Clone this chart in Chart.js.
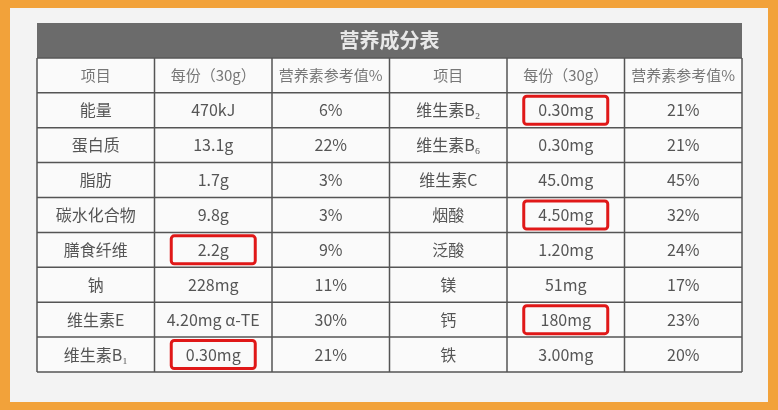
<!DOCTYPE html>
<html>
<head>
<meta charset="utf-8">
<script src="https://cdn.jsdelivr.net/npm/chart.js@4/dist/chart.umd.min.js"></script>
<style>
  html, body { margin: 0; padding: 0; background: #f2a23a; }
  #wrap { position: absolute; left: 10px; top: 8px; width: 758px; height: 394px; background: #f3f3f3; }
  canvas { position: absolute; left: -10px; top: -8px; }
</style>
</head>
<body>
<div id="wrap"><canvas id="c" width="778" height="410"></canvas></div>
<script>
const title = '营养成分表';
const headers = ['项目', '每份（30g）', '营养素参考值%', '项目', '每份（30g）', '营养素参考值%'];
const leftItems = ['能量', '蛋白质', '脂肪', '碳水化合物', '膳食纤维', '钠', '维生素E', '维生素B₁'];
const leftAmounts = ['470kJ', '13.1g', '1.7g', '9.8g', '2.2g', '228mg', '4.20mg α-TE', '0.30mg'];
const leftNrv = ['6%', '22%', '3%', '3%', '9%', '11%', '30%', '21%'];
const rightItems = ['维生素B₂', '维生素B₆', '维生素C', '烟酸', '泛酸', '镁', '钙', '铁'];
const rightAmounts = ['0.30mg', '0.30mg', '45.0mg', '4.50mg', '1.20mg', '51mg', '180mg', '3.00mg'];
const rightNrv = ['21%', '21%', '45%', '32%', '24%', '17%', '23%', '20%'];
// highlighted cells: [column, row]
const highlights = [[4, 0], [1, 4], [1, 7], [4, 3], [4, 6]];

const cols = [leftItems, leftAmounts, leftNrv, rightItems, rightAmounts, rightNrv];
const points = [];
headers.forEach((h, i) => points.push({ x: i + 0.5, y: 1.5, t: h, head: true }));
cols.forEach((col, i) => col.forEach((t, r) => points.push({ x: i + 0.5, y: r + 2.5, t })));

const tablePlugin = {
  id: 'table',
  beforeDatasetsDraw(chart) {
    const { ctx, scales: { x, y } } = chart;
    const X = v => x.getPixelForValue(v), Y = v => y.getPixelForValue(v);
    ctx.save();
    ctx.fillStyle = '#fafafa';
    ctx.fillRect(X(0), Y(1), X(6) - X(0), Y(10) - Y(1));
    ctx.fillStyle = '#6b6b6b';
    ctx.fillRect(X(0), Y(0), X(6) - X(0), Y(1) - Y(0));
    ctx.fillStyle = '#e8e8e8';
    ctx.font = 'bold 20px "Noto Sans CJK SC"';
    ctx.textAlign = 'center'; ctx.textBaseline = 'middle';
    ctx.fillText(title, X(3), Y(0.5));
    ctx.strokeStyle = '#555'; ctx.lineWidth = 1.5;
    for (let r = 1; r <= 10; r++) { ctx.beginPath(); ctx.moveTo(X(0), Y(r)); ctx.lineTo(X(6), Y(r)); ctx.stroke(); }
    for (let c = 0; c <= 6; c++) { ctx.beginPath(); ctx.moveTo(X(c), Y(1)); ctx.lineTo(X(c), Y(10)); ctx.stroke(); }
    ctx.restore();
  },
  afterDatasetsDraw(chart) {
    const { ctx, scales: { x, y } } = chart;
    const X = v => x.getPixelForValue(v), Y = v => y.getPixelForValue(v);
    ctx.save();
    ctx.textAlign = 'center'; ctx.textBaseline = 'middle';
    chart.getDatasetMeta(0).data.forEach((el, i) => {
      const p = points[i];
      ctx.fillStyle = p.head ? '#777' : '#555';
      ctx.font = (p.head ? '15px' : '16px') + ' "Noto Sans CJK SC"';
      ctx.fillText(p.t, el.x, el.y);
    });
    ctx.strokeStyle = '#e01818'; ctx.lineWidth = 3;
    highlights.forEach(([c, r]) => {
      const cx = X(c + 0.5), cy = Y(r + 2.5), w = 84, h = 28;
      ctx.beginPath();
      ctx.roundRect(cx - w / 2, cy - h / 2, w, h, 3);
      ctx.stroke();
    });
    ctx.restore();
  }
};

new Chart(document.getElementById('c'), {
  type: 'scatter',
  data: { datasets: [{ data: points, pointRadius: 0 }] },
  options: {
    responsive: false,
    animation: false,
    layout: { padding: { left: 37, right: 36, top: 23, bottom: 38 } },
    plugins: { legend: { display: false }, tooltip: { enabled: false } },
    scales: {
      x: { type: 'linear', min: 0, max: 6, display: false },
      y: { type: 'linear', min: 0, max: 10, reverse: true, display: false }
    }
  },
  plugins: [tablePlugin]
});
</script>
</body>
</html>
